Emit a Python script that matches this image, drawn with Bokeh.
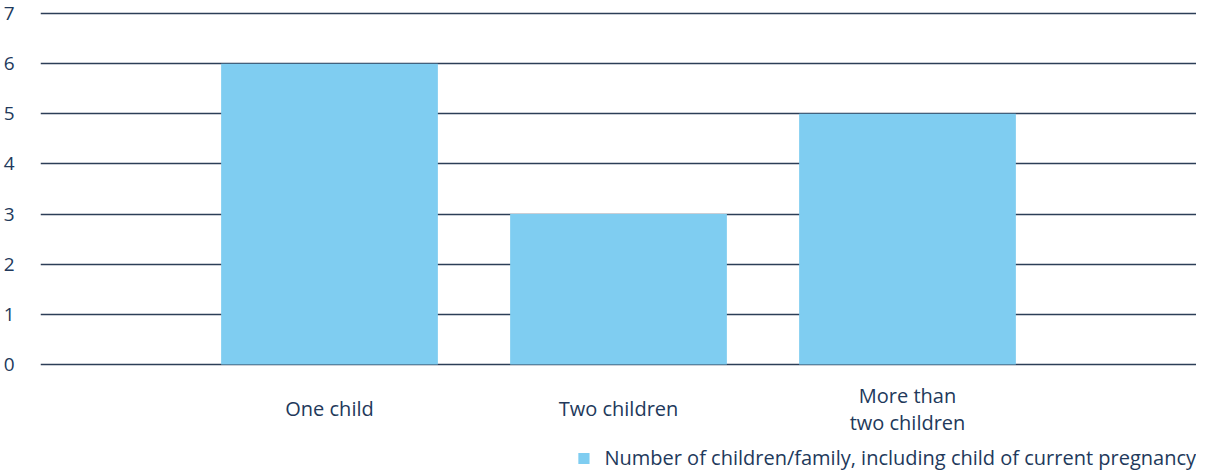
from bokeh.plotting import figure
from bokeh.models import ColumnDataSource, FactorRange, Range1d, FixedTicker, Legend, LegendItem
from bokeh.core.properties import value
from bokeh.embed import file_html
from bokeh.resources import INLINE

categories = ["One child", "Two children", "More than\ntwo children"]
counts = [6, 3, 5]
y_ticks = [0, 1, 2, 3, 4, 5, 6, 7]
series_label = "Number of children/family, including child of current pregnancy"

FONT = "Open Sans"
TEXT = "#22395B"
GRID = "#2C3E57"
BAR = "#7FCDF1"

src = ColumnDataSource(dict(cat=categories, count=counts, label=categories))

p = figure(width=1196, height=471, output_backend="svg", toolbar_location=None,
           title=None, x_axis_location=None,
           x_range=FactorRange(*categories, range_padding=0.5, range_padding_units="absolute"),
           y_range=Range1d(-2.134, 7.06),
           min_border_left=40, min_border_right=0, min_border_top=10, min_border_bottom=0)
p.outline_line_color = None
p.background_fill_color = "white"
p.border_fill_color = "white"

p.xgrid.visible = False
p.ygrid.ticker = FixedTicker(ticks=y_ticks)
p.ygrid.grid_line_color = GRID
p.ygrid.grid_line_width = 1.3

ax = p.yaxis[0]
ax.ticker = FixedTicker(ticks=y_ticks)
ax.axis_line_color = None
ax.major_tick_line_color = None
ax.minor_tick_line_color = None
ax.major_label_text_font = FONT
ax.major_label_text_font_size = "19px"
ax.major_label_text_color = TEXT
ax.major_label_standoff = 20

bars = p.vbar(x="cat", top="count", width=0.75, source=src, fill_color=BAR, line_color=None)

p.text(x="cat", y=-0.88, text="label", source=src, text_align="center", text_baseline="middle",
       text_font=value(FONT), text_font_size="20px", text_color=TEXT, text_line_height=1.0)

legend = Legend(items=[LegendItem(label=series_label, renderers=[bars])],
                location="bottom_right", border_line_color=None, background_fill_alpha=0,
                glyph_width=14, glyph_height=14, label_standoff=14, padding=0, margin=0,
                label_text_font=FONT, label_text_font_size="20px", label_text_color=TEXT)
p.add_layout(legend)

open("out.html", "w").write(file_html(p, INLINE))
